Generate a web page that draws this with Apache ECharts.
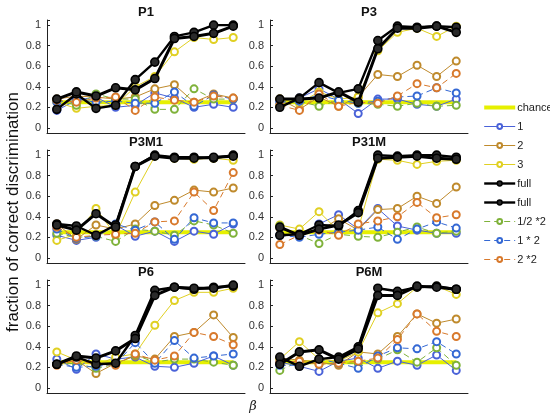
<!DOCTYPE html>
<html>
<head>
<meta charset="utf-8">
<script src="https://cdn.jsdelivr.net/npm/echarts@6/dist/echarts.min.js"></script>
<style>
  html, body { margin: 0; padding: 0; background: #fff; }
  #chart { width: 550px; height: 419px; }
</style>
</head>
<body>
<div id="chart"></div>
<script>
// x positions (beta steps) and chance level
var beta = [1, 2, 3, 4, 5, 6, 7, 8, 9, 10];
var chanceLevel = 0.25;
var panelNames = ['P1', 'P3', 'P3M1', 'P31M', 'P6', 'P6M'];

// P1
var p1_one   = [0.17, 0.27, 0.30, 0.20, 0.22, 0.34, 0.29, 0.20, 0.23, 0.20];
var p1_two   = [0.28, 0.31, 0.30, 0.28, 0.30, 0.38, 0.42, 0.25, 0.33, 0.29];
var p1_three = [0.25, 0.19, 0.21, 0.22, 0.40, 0.50, 0.74, 0.88, 0.86, 0.88];
var p1_half2 = [0.27, 0.22, 0.33, 0.28, 0.28, 0.18, 0.18, 0.38, 0.28, 0.28];
var p1_one2  = [0.25, 0.28, 0.25, 0.26, 0.24, 0.24, 0.35, 0.21, 0.32, 0.28];
var p1_two2  = [0.27, 0.25, 0.29, 0.30, 0.17, 0.30, 0.27, 0.25, 0.31, 0.29];
var p1_fullA = [0.18, 0.33, 0.19, 0.22, 0.47, 0.64, 0.89, 0.93, 1.00, 1.00];
var p1_fullB = [0.28, 0.35, 0.31, 0.39, 0.37, 0.48, 0.87, 0.89, 0.92, 0.99];

// P3
var p3_one   = [0.27, 0.29, 0.38, 0.28, 0.14, 0.28, 0.28, 0.23, 0.21, 0.28];
var p3_two   = [0.28, 0.18, 0.30, 0.21, 0.30, 0.52, 0.50, 0.61, 0.50, 0.65];
var p3_three = [0.28, 0.24, 0.35, 0.28, 0.30, 0.75, 0.93, 0.97, 0.89, 0.99];
var p3_half2 = [0.22, 0.26, 0.21, 0.27, 0.24, 0.23, 0.21, 0.24, 0.21, 0.22];
var p3_one2  = [0.25, 0.26, 0.32, 0.27, 0.24, 0.26, 0.30, 0.31, 0.39, 0.34];
var p3_two2  = [0.22, 0.17, 0.33, 0.21, 0.25, 0.24, 0.31, 0.43, 0.39, 0.53];
var p3_fullA = [0.20, 0.29, 0.44, 0.34, 0.38, 0.85, 0.99, 0.98, 0.99, 0.98];
var p3_fullB = [0.28, 0.28, 0.29, 0.35, 0.25, 0.77, 0.97, 0.97, 0.99, 0.93];

// P3M1
var p3m1_one   = [0.22, 0.17, 0.20, 0.32, 0.21, 0.26, 0.16, 0.26, 0.23, 0.33];
var p3m1_two   = [0.33, 0.18, 0.32, 0.28, 0.33, 0.51, 0.56, 0.66, 0.64, 0.68];
var p3m1_three = [0.17, 0.23, 0.48, 0.22, 0.64, 0.99, 0.97, 0.96, 0.97, 0.95];
var p3m1_half2 = [0.24, 0.20, 0.21, 0.16, 0.28, 0.26, 0.22, 0.36, 0.32, 0.24];
var p3m1_one2  = [0.28, 0.19, 0.21, 0.33, 0.27, 0.35, 0.18, 0.39, 0.34, 0.34];
var p3m1_two2  = [0.30, 0.20, 0.22, 0.23, 0.24, 0.35, 0.36, 0.64, 0.46, 0.83];
var p3m1_fullA = [0.33, 0.31, 0.22, 0.32, 0.89, 1.00, 0.98, 0.98, 0.97, 1.00];
var p3m1_fullB = [0.32, 0.27, 0.43, 0.30, 0.89, 0.99, 0.97, 0.97, 0.98, 0.99];

// P31M
var p31m_one   = [0.29, 0.22, 0.33, 0.42, 0.28, 0.48, 0.31, 0.27, 0.24, 0.24];
var p31m_two   = [0.29, 0.23, 0.26, 0.38, 0.27, 0.47, 0.48, 0.60, 0.53, 0.69];
var p31m_three = [0.32, 0.28, 0.45, 0.26, 0.28, 0.96, 0.95, 0.91, 0.94, 0.95];
var p31m_half2 = [0.31, 0.22, 0.14, 0.23, 0.21, 0.20, 0.25, 0.30, 0.24, 0.26];
var p31m_one2  = [0.22, 0.20, 0.23, 0.25, 0.27, 0.30, 0.18, 0.28, 0.35, 0.29];
var p31m_two2  = [0.13, 0.22, 0.27, 0.22, 0.33, 0.36, 0.40, 0.54, 0.39, 0.42];
var p31m_fullA = [0.22, 0.23, 0.32, 0.31, 0.46, 1.00, 0.99, 1.00, 1.00, 0.98];
var p31m_fullB = [0.30, 0.22, 0.28, 0.32, 0.44, 0.97, 0.98, 0.99, 0.97, 0.96];

// P6
var p6_one   = [0.28, 0.18, 0.33, 0.28, 0.30, 0.21, 0.20, 0.24, 0.31, 0.22];
var p6_two   = [0.23, 0.27, 0.14, 0.24, 0.31, 0.28, 0.50, 0.54, 0.71, 0.49];
var p6_three = [0.35, 0.27, 0.22, 0.30, 0.33, 0.61, 0.85, 0.93, 0.93, 0.97];
var p6_half2 = [0.23, 0.24, 0.19, 0.23, 0.32, 0.25, 0.28, 0.28, 0.25, 0.22];
var p6_one2  = [0.23, 0.20, 0.21, 0.23, 0.44, 0.24, 0.46, 0.29, 0.31, 0.33];
var p6_two2  = [0.22, 0.27, 0.23, 0.22, 0.33, 0.27, 0.31, 0.54, 0.50, 0.42];
var p6_fullA = [0.23, 0.30, 0.23, 0.24, 0.51, 0.95, 0.98, 0.96, 0.98, 0.99];
var p6_fullB = [0.23, 0.31, 0.29, 0.36, 0.48, 0.90, 0.98, 0.97, 0.97, 1.00];

// P6M
var p6m_one   = [0.25, 0.21, 0.16, 0.26, 0.29, 0.19, 0.26, 0.22, 0.32, 0.17];
var p6m_two   = [0.29, 0.27, 0.25, 0.22, 0.35, 0.33, 0.50, 0.72, 0.63, 0.67];
var p6m_three = [0.28, 0.45, 0.28, 0.26, 0.35, 0.73, 0.82, 0.98, 0.99, 0.91];
var p6m_half2 = [0.17, 0.26, 0.23, 0.24, 0.24, 0.28, 0.37, 0.25, 0.39, 0.22];
var p6m_one2  = [0.22, 0.22, 0.28, 0.24, 0.19, 0.31, 0.39, 0.38, 0.45, 0.33];
var p6m_two2  = [0.25, 0.26, 0.23, 0.24, 0.26, 0.29, 0.47, 0.72, 0.55, 0.50];
var p6m_fullA = [0.30, 0.21, 0.28, 0.30, 0.40, 0.97, 0.94, 0.98, 0.99, 0.96];
var p6m_fullB = [0.23, 0.35, 0.37, 0.28, 0.38, 0.90, 0.90, 0.99, 0.98, 0.96];

var panelData = [
  [p1_one, p1_two, p1_three, p1_half2, p1_one2, p1_two2, p1_fullA, p1_fullB],
  [p3_one, p3_two, p3_three, p3_half2, p3_one2, p3_two2, p3_fullA, p3_fullB],
  [p3m1_one, p3m1_two, p3m1_three, p3m1_half2, p3m1_one2, p3m1_two2, p3m1_fullA, p3m1_fullB],
  [p31m_one, p31m_two, p31m_three, p31m_half2, p31m_one2, p31m_two2, p31m_fullA, p31m_fullB],
  [p6_one, p6_two, p6_three, p6_half2, p6_one2, p6_two2, p6_fullA, p6_fullB],
  [p6m_one, p6m_two, p6m_three, p6m_half2, p6m_one2, p6m_two2, p6m_fullA, p6m_fullB]
];

// series look: name, colour, line type, line width
var styles = [
  { name: '1',      color: '#4a62d8', type: 'solid',  width: 1 },
  { name: '2',      color: '#bf8a2c', type: 'solid',  width: 1 },
  { name: '3',      color: '#e0d022', type: 'solid',  width: 1 },
  { name: '1/2 *2', color: '#7fb23a', type: [6, 4],   width: 1 },
  { name: '1 * 2',  color: '#3468d4', type: [6, 4],   width: 1 },
  { name: '2 *2',   color: '#d8792c', type: [6, 4],   width: 1 },
  { name: 'full',   color: '#000000', type: 'solid',  width: 2.4 },
  { name: 'full ',  color: '#000000', type: 'solid',  width: 3 }
];
var legendOrder = [0, 1, 2, 6, 7, 3, 4, 5];

function pairs(arr) {
  return arr.map(function (v, i) { return [beta[i], v]; });
}

var lefts = [47, 270];
var tops = [20, 150, 280];
var gridW = 198, gridH = 113;

var grids = [], xAxes = [], yAxes = [], series = [], graphics = [];

panelNames.forEach(function (pn, p) {
  var left = lefts[p % 2];
  var top = tops[Math.floor(p / 2)];
  grids.push({ left: left, top: top, width: gridW, height: gridH });
  xAxes.push({
    gridIndex: p, type: 'value', min: 0.5, max: 10.6,
    axisLine: { show: true, onZero: false, lineStyle: { color: '#222', width: 1 } },
    axisTick: { show: false }, axisLabel: { show: false }, splitLine: { show: false }
  });
  yAxes.push({
    gridIndex: p, type: 'value', min: -0.05, max: 1.05,
    axisLine: { show: true, lineStyle: { color: '#222', width: 1 } },
    axisTick: { show: true, inside: true, length: 3, lineStyle: { color: '#222' } },
    splitLine: { show: false },
    axisLabel: {
      color: '#333', fontSize: 11, fontFamily: 'Liberation Sans', margin: 6,
      formatter: function (v) {
        var k = v * 5;
        if (Math.abs(k - Math.round(k)) > 1e-6) return '';
        return String(+v.toFixed(1));
      }
    }
  });
  graphics.push({
    type: 'text', x: left + gridW / 2, y: top - 8,
    style: { text: pn, font: 'bold 13px Liberation Sans', fill: '#111', align: 'center', verticalAlign: 'middle' }
  });

  series.push({
    name: 'chance', type: 'line', xAxisIndex: p, yAxisIndex: p,
    data: pairs(beta.map(function () { return chanceLevel; })),
    symbol: 'none', lineStyle: { color: '#e6f000', width: 4 }, itemStyle: { color: '#e6f000' },
    z: 1, silent: true
  });
  panelData[p].forEach(function (arr, k) {
    var st = styles[k];
    var isFull = k >= 6;
    series.push({
      name: st.name, type: 'line', xAxisIndex: p, yAxisIndex: p,
      data: pairs(arr),
      symbol: isFull ? 'circle' : 'emptyCircle',
      symbolSize: isFull ? 8 : 7,
      lineStyle: { color: st.color, width: st.width, type: st.type },
      itemStyle: isFull
        ? { color: '#2a2a2a', borderColor: '#000', borderWidth: 1.6 }
        : { color: st.color, borderColor: st.color, borderWidth: 1 },
      z: isFull ? 5 : 3,
      silent: true
    });
  });
});

graphics.push({
  type: 'text', x: 13, y: 212, rotation: Math.PI / 2,
  style: { text: 'fraction of correct discrimination', font: '17px Liberation Sans', fill: '#111', align: 'center', verticalAlign: 'middle' }
});
graphics.push({
  type: 'text', x: 253, y: 407,
  style: { text: 'β', font: 'italic 13px DejaVu Serif', fill: '#222', align: 'center', verticalAlign: 'middle' }
});

// legend entries: thin lines for the coloured series, thick for "full"
var legendData = [
  { name: 'chance', icon: 'path://M0,0L31,0L31,4L0,4Z', itemStyle: { color: '#e6f000', borderWidth: 0 } }
];
legendOrder.forEach(function (k) {
  var st = styles[k];
  var isFull = k >= 6;
  legendData.push({
    name: st.name,
    lineStyle: { width: isFull ? 2.4 : 1, type: st.type },
    itemStyle: { borderWidth: isFull ? 1.5 : 1 }
  });
});

var chart = echarts.init(document.getElementById('chart'));
chart.setOption({
  animation: false,
  backgroundColor: '#fff',
  grid: grids,
  xAxis: xAxes,
  yAxis: yAxes,
  legend: {
    orient: 'vertical', left: 483, top: 102, padding: 0,
    itemWidth: 31, itemHeight: 6, itemGap: 8,
    data: legendData,
    formatter: function (n) { return n.trim(); },
    textStyle: { fontSize: 11, color: '#222', fontFamily: 'Liberation Sans', padding: [0, 0, 0, -3] }
  },
  graphic: graphics,
  series: series
});
window.addEventListener('resize', function () {
  chart.resize();
});
</script>
</body>
</html>
